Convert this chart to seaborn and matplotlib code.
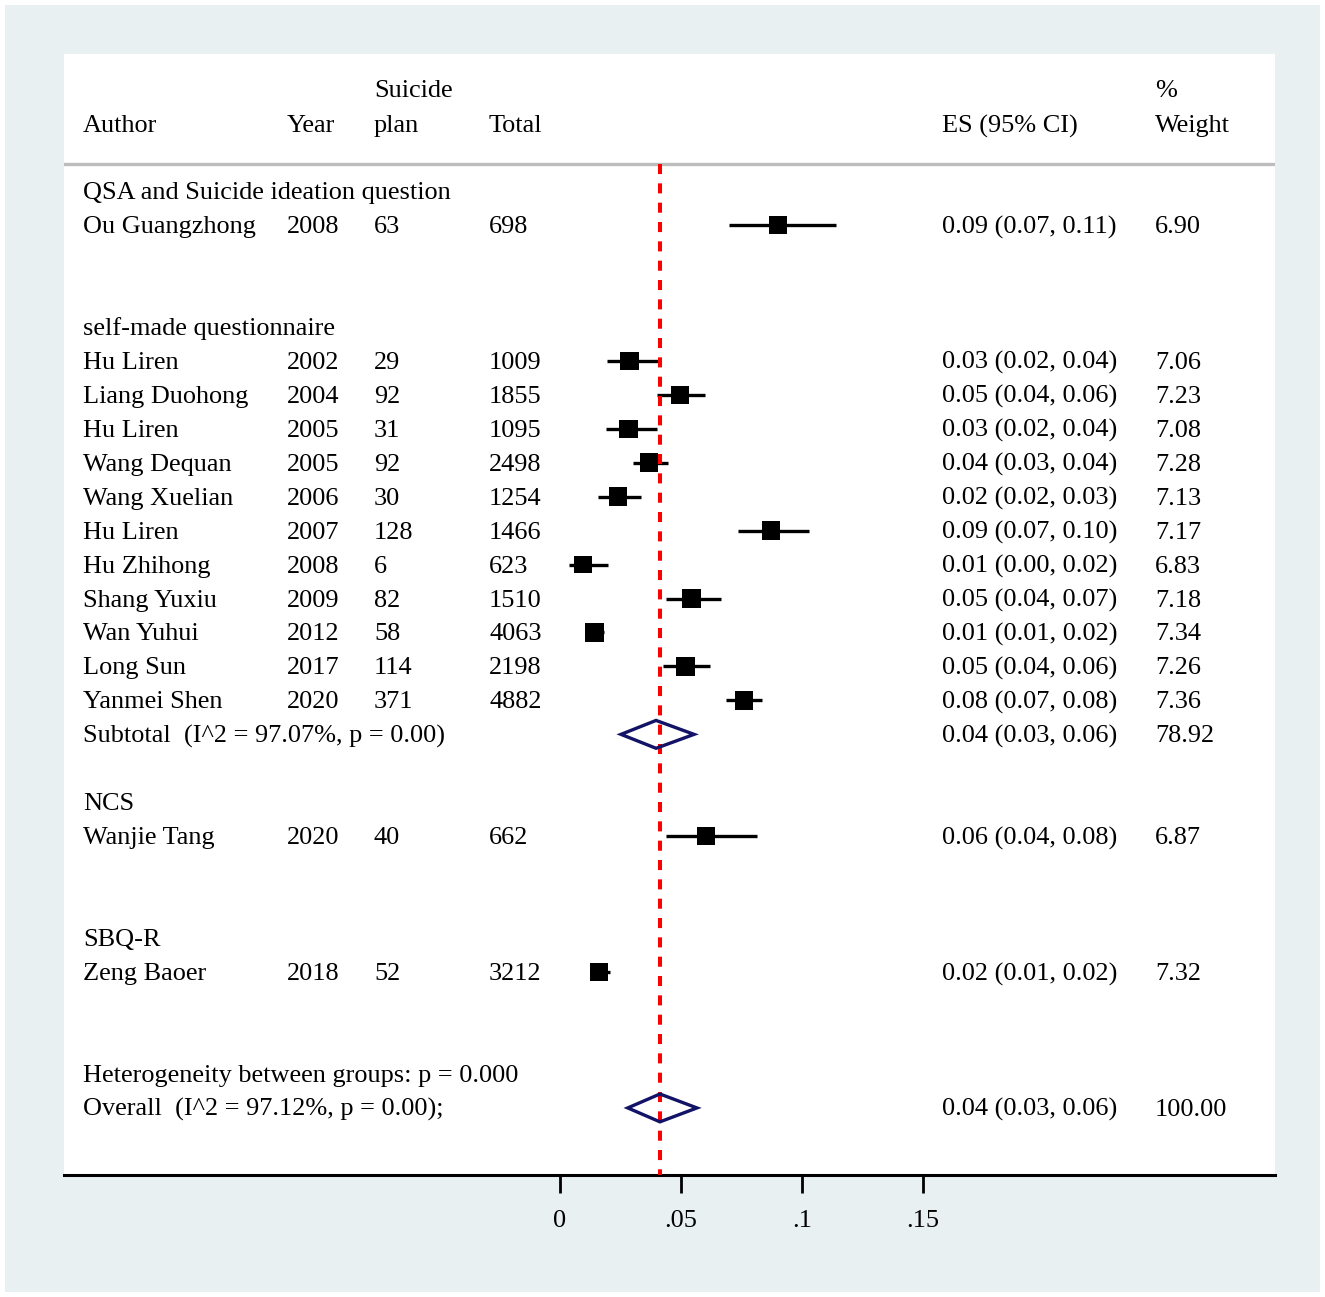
import matplotlib
matplotlib.use("Agg")
import matplotlib.pyplot as plt
from matplotlib.patches import Rectangle, Polygon
import seaborn as sns
import pandas as pd

# ---------------- data ----------------
group_names = ["QSA and Suicide ideation question", "self-made questionnaire", "NCS", "SBQ-R"]
study_group = [0, 1, 1, 1, 1, 1, 1, 1, 1, 1, 1, 1, 2, 3]
authors = ["Ou Guangzhong", "Hu Liren", "Liang Duohong", "Hu Liren", "Wang Dequan",
           "Wang Xuelian", "Hu Liren", "Hu Zhihong", "Shang Yuxiu", "Wan Yuhui",
           "Long Sun", "Yanmei Shen", "Wanjie Tang", "Zeng Baoer"]
years = [2008, 2002, 2004, 2005, 2005, 2006, 2007, 2008, 2009, 2012, 2017, 2020, 2020, 2018]
plans = [63, 29, 92, 31, 92, 30, 128, 6, 82, 58, 114, 371, 40, 52]
totals = [698, 1009, 1855, 1095, 2498, 1254, 1466, 623, 1510, 4063, 2198, 4882, 662, 3212]
es = [0.090, 0.0287, 0.0496, 0.0283, 0.0368, 0.0239, 0.0873, 0.0096, 0.0543, 0.0143,
      0.0519, 0.0760, 0.0604, 0.0162]
ci_lo = [0.070, 0.0194, 0.0400, 0.0192, 0.0300, 0.0157, 0.0736, 0.0037, 0.0440, 0.0110,
         0.0426, 0.0686, 0.0438, 0.0124]
ci_hi = [0.114, 0.0410, 0.0600, 0.0400, 0.0446, 0.0335, 0.1030, 0.0200, 0.0665, 0.0180,
         0.0620, 0.0835, 0.0814, 0.0207]
es_labels = ["0.09 (0.07, 0.11)", "0.03 (0.02, 0.04)", "0.05 (0.04, 0.06)", "0.03 (0.02, 0.04)",
             "0.04 (0.03, 0.04)", "0.02 (0.02, 0.03)", "0.09 (0.07, 0.10)", "0.01 (0.00, 0.02)",
             "0.05 (0.04, 0.07)", "0.01 (0.01, 0.02)", "0.05 (0.04, 0.06)", "0.08 (0.07, 0.08)",
             "0.06 (0.04, 0.08)", "0.02 (0.01, 0.02)"]
weights = ["6.90", "7.06", "7.23", "7.08", "7.28", "7.13", "7.17", "6.83", "7.18", "7.34",
           "7.26", "7.36", "6.87", "7.32"]
weight_vals = [6.90, 7.06, 7.23, 7.08, 7.28, 7.13, 7.17, 6.83, 7.18, 7.34, 7.26, 7.36, 6.87, 7.32]

subtotal_label = "Subtotal  (I^2 = 97.07%, p = 0.00)"
subtotal_es, subtotal_lo, subtotal_hi = 0.0397, 0.0252, 0.0554
subtotal_es_label, subtotal_weight = "0.04 (0.03, 0.06)", "78.92"

het_label = "Heterogeneity between groups: p = 0.000"
overall_label = "Overall  (I^2 = 97.12%, p = 0.00);"
overall_es, overall_lo, overall_hi = 0.0413, 0.0280, 0.0566
overall_es_label, overall_weight = "0.04 (0.03, 0.06)", "100.00"

xticks = [0, 0.05, 0.1, 0.15]
xtick_labels = ["0", ".05", ".1", ".15"]

# ---------------- layout of rows ----------------
rows = []
group_rows = []
subtotal_row = None
r = 0
for g, name in enumerate(group_names):
    group_rows.append(r)
    r += 1
    idx = [i for i, sg in enumerate(study_group) if sg == g]
    for i in idx:
        rows.append((i, r))
        r += 1
    if len(idx) > 1:
        subtotal_row = r
    r += 2
het_row = r
overall_row = r + 1
study_row = [0] * len(authors)
for i, rr in rows:
    study_row[i] = rr

df = pd.DataFrame({"author": authors, "es": es, "lo": ci_lo, "hi": ci_hi,
                   "row": study_row, "weight": weight_vals})

# ---------------- figure ----------------
sns.set_theme(style="white")
plt.rcParams["font.family"] = ["Liberation Serif", "DejaVu Serif"]
plt.rcParams["text.color"] = "black"
plt.rcParams["xtick.color"] = "black"

W, H = 1325, 1297
fig = plt.figure(figsize=(W / 100, H / 100), dpi=100, facecolor="white")
bg = Rectangle((5 / W, 5 / H), 1315 / W, 1287 / H, transform=fig.transFigure,
               facecolor="#e8f0f2", edgecolor="none", zorder=-10)
fig.patches.append(bg)

ax_l, ax_r, ax_t, ax_b = 64, 1275, 54, 1175
ax = fig.add_axes([ax_l / W, (H - ax_b) / H, (ax_r - ax_l) / W, (ax_b - ax_t) / H])
ax.set_zorder(5)
ax.set_facecolor("white")

px_per_unit = 2420.0
x0_px = 560.0
ax.set_xlim((ax_l - x0_px) / px_per_unit, (ax_r - x0_px) / px_per_unit)
row0_px, row_h = 191.0, 33.96
ax.set_ylim((ax_b - row0_px) / row_h, (ax_t - row0_px) / row_h)

def col(px):
    return (px - ax_l) / (ax_r - ax_l)

tr = ax.get_yaxis_transform()
FS = 18.9
TOFF = 2.0 / row_h   # small downward nudge of text to match reference

def put(px, row, txt):
    ax.text(col(px), row + TOFF, txt, transform=tr, ha="left", va="center",
            fontsize=FS, color="black")

# header
hdr1 = (89 - row0_px) / row_h
hdr2 = (124 - row0_px) / row_h
sep = (164 - row0_px) / row_h
for px, txt in [(374, "Suicide"), (1155, "%")]:
    put(px, hdr1, txt)
for px, txt in [(83, "Author"), (287, "Year"), (374, "plan"), (489, "Total"),
                (942, "ES (95% CI)"), (1155, "Weight")]:
    put(px, hdr2, txt)
ax.axhline(sep, color="#bdbdbd", lw=2.4, zorder=2)

# group labels
for name, gr in zip(group_names, group_rows):
    put(83, gr, name)

# study text columns
for i in range(len(authors)):
    rr = study_row[i]
    put(83, rr, authors[i])
    put(287, rr, str(years[i]))
    put(374, rr, str(plans[i]))
    put(489, rr, str(totals[i]))
    put(942, rr, es_labels[i])
    put(1155, rr, weights[i])

# subtotal / overall text
put(83, subtotal_row, subtotal_label)
put(942, subtotal_row, subtotal_es_label)
put(1155, subtotal_row, subtotal_weight)
put(83, het_row, het_label)
put(83, overall_row, overall_label)
put(942, overall_row, overall_es_label)
put(1155, overall_row, overall_weight)

# CI lines and boxes
ax.hlines(df["row"], df["lo"], df["hi"], color="black", lw=2.4, zorder=3)
sns.scatterplot(data=df, x="es", y="row", size="weight", sizes=(165, 180), marker="s",
                color="black", edgecolor="black", linewidth=0, legend=False, ax=ax, zorder=4)

# diamonds
dh = 0.41
navy = "#121266"
for c, lo, hi, rr in [(subtotal_es, subtotal_lo, subtotal_hi, subtotal_row),
                      (overall_es, overall_lo, overall_hi, overall_row)]:
    ax.add_patch(Polygon([(lo, rr), (c, rr - dh), (hi, rr), (c, rr + dh)], closed=True,
                         facecolor="none", edgecolor=navy, lw=2.4, zorder=5))

# overall dashed line
ax.plot([overall_es, overall_es], [sep, (ax_b - row0_px) / row_h], color="#ff0000",
        lw=2.9, dashes=(2.5, 2.3), zorder=3, solid_capstyle="butt", dash_capstyle="butt")

# axes styling
for s in ["top", "left", "right"]:
    ax.spines[s].set_visible(False)
ax.spines["bottom"].set_color("black")
ax.spines["bottom"].set_linewidth(2.2)
ax.set_xticks(xticks)
ax.set_xticklabels(xtick_labels, fontsize=FS)
ax.tick_params(axis="x", direction="out", length=13, width=2, color="black", pad=12,
               bottom=True, labelcolor="black")
ax.set_yticks([])
ax.set_xlabel("")
ax.set_ylabel("")
ax.grid(False)

fig.savefig("out.png", dpi=100, facecolor=fig.get_facecolor())
